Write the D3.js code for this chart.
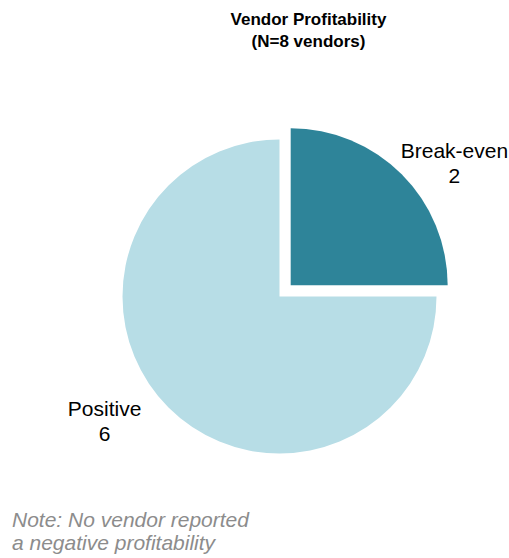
<!DOCTYPE html>
<html>
<head>
<meta charset="utf-8">
<script src="https://cdn.jsdelivr.net/npm/d3@7"></script>
<style>
  html, body { margin: 0; padding: 0; background: #ffffff; }
  svg { display: block; }
</style>
</head>
<body>
<svg id="chart" width="509" height="558"></svg>
<script>
// Vendor profitability breakdown
const categories = ["Break-even", "Positive"];
const counts = [2, 6];
const titleLines = ["Vendor Profitability", "(N=8 vendors)"];
const noteLines = ["Note: No vendor reported", "a negative profitability"];

const colors = d3.scaleOrdinal()
  .domain(categories)
  .range(["#2E8499", "#B7DDE6"]);

const width = 509, height = 558;
const cx = 279.5, cy = 296.5, radius = 157;
const explodeBy = 15.8;          // outward shift of the Break-even slice
const font = "'Liberation Sans', Arial, Helvetica, sans-serif";

const svg = d3.select("#chart");

const data = categories.map((c, i) => ({ category: c, value: counts[i] }));
const pie = d3.pie().sort(null).value(d => d.value);
const arcs = pie(data);

const arc = d3.arc().innerRadius(0).outerRadius(radius);

function offsetFor(d) {
  if (d.data.category !== "Break-even") return [0, 0];
  const mid = (d.startAngle + d.endAngle) / 2;
  return [Math.sin(mid) * explodeBy, -Math.cos(mid) * explodeBy];
}

const g = svg.append("g").attr("transform", `translate(${cx},${cy})`);

g.selectAll("path.slice")
  .data(arcs)
  .join("path")
  .attr("class", "slice")
  .attr("d", arc)
  .attr("fill", d => colors(d.data.category))
  .attr("transform", d => {
    const [dx, dy] = offsetFor(d);
    return `translate(${dx},${dy})`;
  });

// Data labels: placed along a rotated radial from each slice's mid-angle
const labelLayout = {
  "Break-even": { radius: 204.4, turn: 0.144, fontSize: 21 },
  "Positive":   { radius: 215,   turn: 0.165, fontSize: 21 }
};

arcs.forEach(d => {
  const L = labelLayout[d.data.category];
  const [dx, dy] = offsetFor(d);
  const a = (d.startAngle + d.endAngle) / 2 + L.turn;
  const x = dx + Math.sin(a) * L.radius;
  const y = dy - Math.cos(a) * L.radius;
  const t = g.append("text")
    .attr("x", x)
    .attr("y", y)
    .attr("text-anchor", "middle")
    .attr("font-family", font)
    .attr("font-size", L.fontSize)
    .attr("fill", "#000");
  t.append("tspan").attr("x", x).attr("dy", "-0.25em").text(d.data.category);
  t.append("tspan").attr("x", x).attr("dy", "1.18em").text(d.data.value);
});

// Title
const title = svg.append("text")
  .attr("x", 308.5)
  .attr("y", 25)
  .attr("text-anchor", "middle")
  .attr("font-family", font)
  .attr("font-size", 17)
  .attr("font-weight", "bold")
  .attr("fill", "#000");
titleLines.forEach((line, i) => {
  title.append("tspan").attr("x", 308.5).attr("dy", i === 0 ? 0 : 22).text(line);
});

// Footnote
const note = svg.append("text")
  .attr("x", 12)
  .attr("y", 527)
  .attr("font-family", font)
  .attr("font-size", 21)
  .attr("font-style", "italic")
  .attr("fill", "#8C8C8C");
noteLines.forEach((line, i) => {
  note.append("tspan").attr("x", 12).attr("dy", i === 0 ? 0 : 23).text(line);
});
</script>
</body>
</html>
